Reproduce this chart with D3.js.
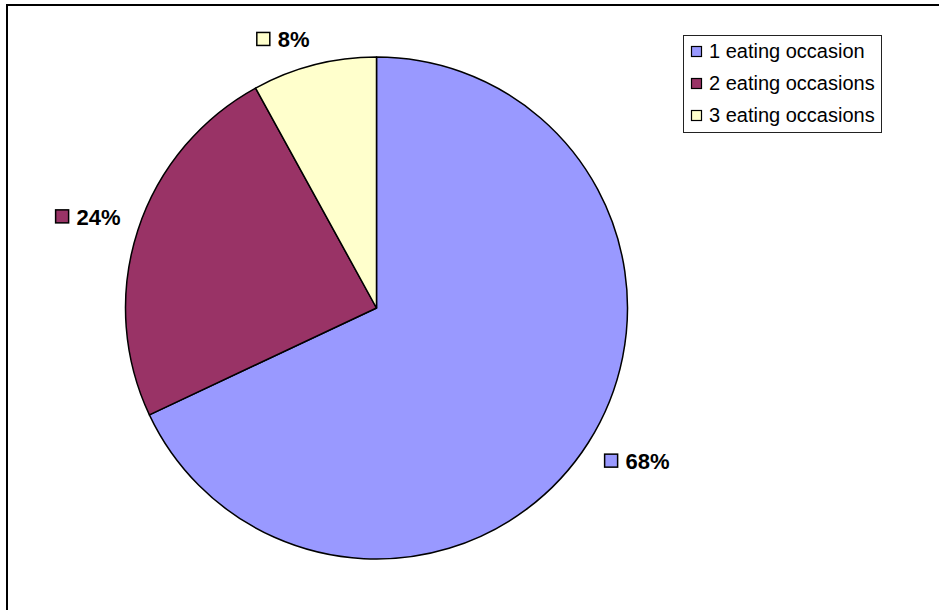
<!DOCTYPE html>
<html>
<head>
<meta charset="utf-8">
<script src="https://cdn.jsdelivr.net/npm/d3@7/dist/d3.min.js"></script>
<style>
  html, body { margin: 0; padding: 0; background: #fff; }
  svg { display: block; font-family: "Liberation Sans", Arial, sans-serif; }
</style>
</head>
<body>
<svg id="chart" width="939" height="610"></svg>
<script>
// Number of eating occasions: share of respondents
const categories = ["1 eating occasion", "2 eating occasions", "3 eating occasions"];
const shares = [68, 24, 8];
const sliceColors = ["#9999FF", "#993366", "#FFFFCC"];

const svg = d3.select("#chart");
const W = 939, H = 610;

// chart area frame (right and bottom edges run past the window)
svg.append("rect")
  .attr("x", 7).attr("y", 5)
  .attr("width", W + 20).attr("height", H + 20)
  .attr("fill", "#fff")
  .attr("stroke", "#000")
  .attr("stroke-width", 2);

const cx = 376.5, cy = 308, r = 251;
const g = svg.append("g").attr("transform", `translate(${cx},${cy})`);

const pie = d3.pie().sort(null).value(d => d.value);
const data = pie(categories.map((c, i) => ({ name: c, value: shares[i], color: sliceColors[i] })));

const arc = d3.arc().innerRadius(0).outerRadius(r);

g.selectAll("path.slice")
  .data(data)
  .join("path")
  .attr("class", "slice")
  .attr("d", arc)
  .attr("fill", d => d.data.color)
  .attr("stroke", "#000")
  .attr("stroke-width", 1.5)
  .attr("stroke-linejoin", "round");

// data labels: small swatch + bold percentage, the corner nearest the pie sits on a ring outside the rim
const labelR = r + 18;
const fontSize = 22, sw = 14, gap = 8;
data.forEach(d => {
  const a = (d.startAngle + d.endAngle) / 2;
  const ax = Math.sin(a) * labelR;
  const ay = -Math.cos(a) * labelR;
  const txt = d.data.value + "%";
  const lg = g.append("g");
  const t = lg.append("text")
    .attr("x", sw + gap).attr("y", 0)
    .attr("font-size", fontSize)
    .attr("font-weight", "bold")
    .attr("fill", "#000")
    .text(txt);
  const tw = t.node().getComputedTextLength();
  lg.append("rect")
    .attr("x", 1).attr("y", -sw - 1)
    .attr("width", sw - 1).attr("height", sw - 1)
    .attr("fill", d.data.color)
    .attr("stroke", "#000")
    .attr("stroke-width", 1.5);
  const boxW = sw + gap + tw;
  const boxH = 17;
  const bx = Math.sin(a) >= 0 ? ax : ax - boxW;
  const by = -Math.cos(a) >= 0 ? ay + boxH : ay;
  lg.attr("transform", `translate(${bx},${by})`);
});

// legend
const lx = 683.5, ly = 35.5, lw = 198, lh = 97;
const legend = svg.append("g");
legend.append("rect")
  .attr("x", lx).attr("y", ly).attr("width", lw).attr("height", lh)
  .attr("fill", "#fff").attr("stroke", "#222").attr("stroke-width", 1);
const rowY = d3.scalePoint().domain(categories).range([58, 122]);
categories.forEach((c, i) => {
  const y = rowY(c);
  legend.append("rect")
    .attr("x", 691.5).attr("y", y - 11.5)
    .attr("width", 10).attr("height", 10)
    .attr("fill", sliceColors[i])
    .attr("stroke", "#000").attr("stroke-width", 1.2);
  legend.append("text")
    .attr("x", 709).attr("y", y)
    .attr("font-size", 20)
    .attr("fill", "#000")
    .text(c);
});
</script>
</body>
</html>
